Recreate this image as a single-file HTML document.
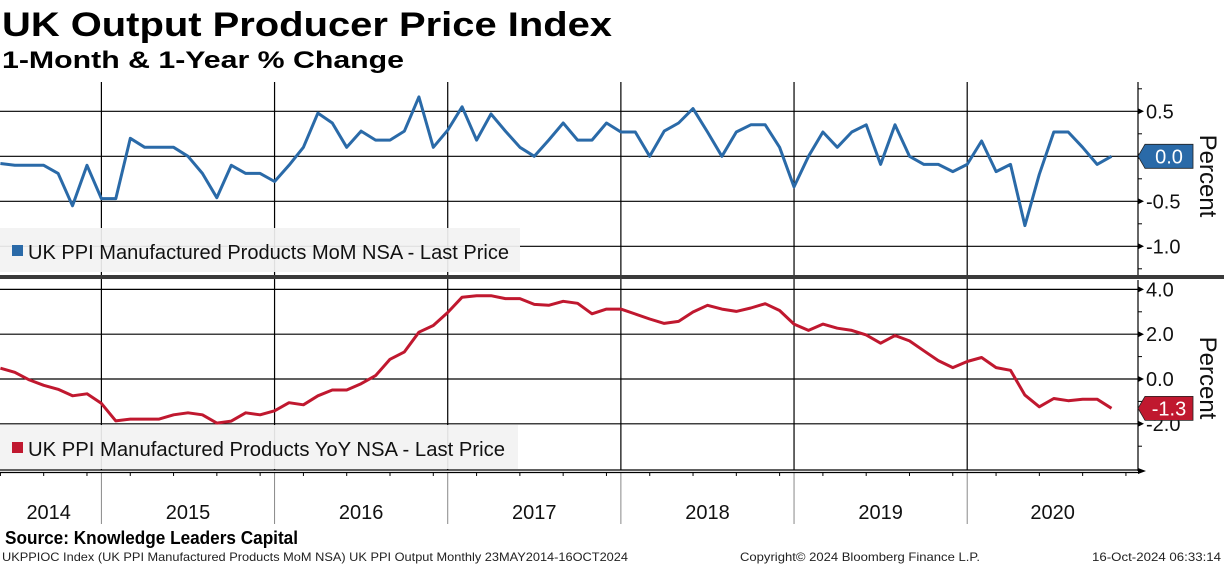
<!DOCTYPE html>
<html><head><meta charset="utf-8"><style>
html,body{margin:0;padding:0;background:#fff;}
svg{display:block;font-family:"Liberation Sans","DejaVu Sans",sans-serif;}
</style></head><body>
<svg id="chart" width="1224" height="566" viewBox="0 0 1224 566" xmlns="http://www.w3.org/2000/svg">
<text x="2" y="36" font-size="34" font-weight="bold" textLength="610" lengthAdjust="spacingAndGlyphs">UK Output Producer Price Index</text>
<text x="2" y="68" font-size="24" font-weight="bold" textLength="402" lengthAdjust="spacingAndGlyphs">1-Month &amp; 1-Year % Change</text>
<g id="grid"></g>
<g id="lines"></g>
<rect x="0" y="275" width="1224" height="4" fill="#3a3a3a"/>
<g>
<rect x="0" y="228" width="520" height="44" fill="#f2f2f2" opacity="0.92"/>
<rect x="12" y="245" width="11" height="11" fill="#2a6aa8"/>
<text x="28" y="259" font-size="20" fill="#111" textLength="481" lengthAdjust="spacingAndGlyphs">UK PPI Manufactured Products MoM NSA - Last Price</text>
</g>
<g>
<rect x="0" y="425" width="518" height="44" fill="#f2f2f2" opacity="0.92"/>
<rect x="12" y="442" width="11" height="11" fill="#c0182f"/>
<text x="28" y="456" font-size="20" fill="#111" textLength="477" lengthAdjust="spacingAndGlyphs">UK PPI Manufactured Products YoY NSA - Last Price</text>
</g>
<g id="axes"></g>
<text x="5" y="544" font-size="18" font-weight="bold" textLength="293" lengthAdjust="spacingAndGlyphs">Source: Knowledge Leaders Capital</text>
<text x="2" y="561" font-size="12" fill="#222" textLength="626" lengthAdjust="spacingAndGlyphs">UKPPIOC Index (UK PPI Manufactured Products MoM NSA) UK PPI Output  Monthly 23MAY2014-16OCT2024</text>
<text x="740" y="561" font-size="12" fill="#222" textLength="240" lengthAdjust="spacingAndGlyphs">Copyright© 2024 Bloomberg Finance L.P.</text>
<text x="1092" y="561" font-size="12" fill="#222" textLength="129" lengthAdjust="spacingAndGlyphs">16-Oct-2024 06:33:14</text>
</svg>
<script>
const years = ["2014","2015","2016","2017","2018","2019","2020"];
const momTicks = [0.5, 0.0, -0.5, -1.0];
const momTickLabels = ["0.5","0.0","-0.5","-1.0"];
const yoyTicks = [4, 2, 0, -2];
const yoyTickLabels = ["4.0","2.0","0.0","-2.0"];
// monthly Jun 2014 .. Nov 2020
const momValues = [-0.08,-0.1,-0.1,-0.1,-0.19,-0.55,-0.1,-0.47,-0.47,0.2,0.1,0.1,0.1,0.0,-0.19,-0.46,-0.1,-0.19,-0.19,-0.28,-0.1,0.1,0.48,0.37,0.1,0.28,0.18,0.18,0.28,0.66,0.1,0.29,0.55,0.18,0.47,0.28,0.1,0.0,0.18,0.37,0.18,0.18,0.37,0.27,0.27,0.0,0.28,0.37,0.53,0.27,0.0,0.27,0.35,0.35,0.1,-0.34,0.0,0.27,0.1,0.27,0.35,-0.09,0.35,0.0,-0.09,-0.09,-0.17,-0.09,0.17,-0.17,-0.09,-0.77,-0.2,0.27,0.27,0.1,-0.09,0.0];
const yoyValues = [0.48,0.30,-0.04,-0.28,-0.46,-0.75,-0.66,-1.09,-1.87,-1.79,-1.79,-1.79,-1.60,-1.51,-1.60,-1.97,-1.88,-1.51,-1.60,-1.42,-1.06,-1.15,-0.75,-0.49,-0.49,-0.21,0.15,0.88,1.21,2.09,2.39,2.97,3.65,3.72,3.72,3.59,3.59,3.33,3.29,3.47,3.38,2.91,3.12,3.12,2.90,2.68,2.48,2.57,2.99,3.29,3.12,3.02,3.17,3.36,3.06,2.45,2.17,2.45,2.27,2.17,1.97,1.60,1.94,1.70,1.26,0.82,0.51,0.78,0.96,0.51,0.39,-0.72,-1.24,-0.87,-0.97,-0.90,-0.90,-1.31];
const momLast = "0.0", yoyLast = "-1.3";

const NS="http://www.w3.org/2000/svg";
const X0=101.4, MW=14.43, START=-7; // Jun 2014 is 7 months before Jan 2015
const xOf=i=>X0+(i+START)*MW;
const yMom=v=>156.3-v*90;
const yYoy=v=>379-v*22.4;
const RIGHT=1138;
function mk(tag,attrs,parent){const e=document.createElementNS(NS,tag);for(const k in attrs)e.setAttribute(k,attrs[k]);parent.appendChild(e);return e;}
const grid=document.getElementById('grid'), lines=document.getElementById('lines'), axes=document.getElementById('axes');

// horizontal gridlines
momTicks.forEach((t,i)=>{const l=mk('line',{x1:0,x2:RIGHT,y1:yMom(t),y2:yMom(t),stroke:'#000','stroke-width':1.2},grid);


const tx=mk('text',{x:1146,y:yMom(t)+7,'font-size':20,fill:'#111'},axes);tx.textContent=momTickLabels[i];


mk('path',{d:`M${RIGHT} ${yMom(t)-3}L${RIGHT+6} ${yMom(t)}L${RIGHT} ${yMom(t)+3}Z`,fill:'#000'},axes);});
[0.75,0.25,-0.25,-0.75,-1.25].forEach(t=>mk('line',{x1:RIGHT,x2:RIGHT+4,y1:yMom(t),y2:yMom(t),stroke:'#000'},axes));
yoyTicks.forEach((t,i)=>{const l=mk('line',{x1:0,x2:RIGHT,y1:yYoy(t),y2:yYoy(t),stroke:'#000','stroke-width':1.2},grid);


const tx=mk('text',{x:1146,y:yYoy(t)+7,'font-size':20,fill:'#111'},axes);tx.textContent=yoyTickLabels[i];


mk('path',{d:`M${RIGHT} ${yYoy(t)-3}L${RIGHT+6} ${yYoy(t)}L${RIGHT} ${yYoy(t)+3}Z`,fill:'#000'},axes);});
[3,1,-1,-3].forEach(t=>mk('line',{x1:RIGHT,x2:RIGHT+4,y1:yYoy(t),y2:yYoy(t),stroke:'#000'},axes));

// vertical year lines
for(let y=1;y<years.length;y++){const x=X0+(y-1)*12*MW;
const v=mk('line',{x1:x,x2:x,y1:82,y2:470,stroke:'#000','stroke-width':1.2},grid);


mk('line',{x1:x,x2:x,y1:472,y2:524,stroke:'#888','stroke-width':1},axes);}
// year labels
years.forEach((yr,i)=>{let a=Math.max(0,X0+(i-1)*12*MW), b=Math.min(RIGHT,X0+i*12*MW);
if(i===0)a=-4;
const t=mk('text',{x:(a+b)/2,y:519,'font-size':20,'text-anchor':'middle',fill:'#111'},axes);t.textContent=yr;

});
// quarter ticks
for(let m=START;m<=72;m+=3){const x=X0+m*MW;if(x<0||x>RIGHT)continue;mk('line',{x1:x,x2:x,y1:472,y2:476,stroke:'#000'},axes);}
// axes
mk('line',{x1:0,x2:RIGHT,y1:470,y2:470,stroke:'#000','stroke-width':1.2},axes);
mk('line',{x1:0,x2:RIGHT,y1:472.5,y2:472.5,stroke:'#000','stroke-width':1.2},axes);
mk('path',{d:`M${RIGHT} 468L${RIGHT+8} 471L${RIGHT} 474Z`,fill:'#000'},axes);
mk('line',{x1:RIGHT,x2:RIGHT,y1:82,y2:275,stroke:'#000','stroke-width':1.2},axes);
mk('line',{x1:RIGHT,x2:RIGHT,y1:280,y2:471,stroke:'#000','stroke-width':1.2},axes);

// series
function series(vals,yf,color,name){const d=vals.map((v,i)=>(i?'L':'M')+xOf(i).toFixed(1)+' '+yf(v).toFixed(1)).join('');
const p=mk('path',{d,fill:'none',stroke:color,'stroke-width':3,'stroke-linejoin':'round'},lines);

}
series(momValues,yMom,'#2a6aa8','mom-line');
series(yoyValues,yYoy,'#c0182f','yoy-line');

// last price tags
function tag(v,yf,color,label,name){const y=yf(v);
const g=mk('g',{},axes);


mk('path',{d:`M1138 ${y}L1145 ${y-12}L1193 ${y-12}L1193 ${y+12}L1145 ${y+12}Z`,fill:color,stroke:'#222','stroke-width':0.8},g);
const t=mk('text',{x:1169,y:y+7,'font-size':20,'text-anchor':'middle',fill:'#fff'},g);t.textContent=label;}
tag(momValues[momValues.length-1],yMom,'#2a6aa8',momLast,'mom-last-price-tag');
tag(yoyValues[yoyValues.length-1],yYoy,'#c0182f',yoyLast,'yoy-last-price-tag');

// axis titles
[[176,'mom-axis-title'],[378,'yoy-axis-title']].forEach(([cy,n])=>{const t=mk('text',{x:0,y:0,'font-size':24,'text-anchor':'middle',fill:'#111',transform:`translate(1200 ${cy}) rotate(90)`},axes);t.textContent='Percent';

});
</script>
</body></html>
